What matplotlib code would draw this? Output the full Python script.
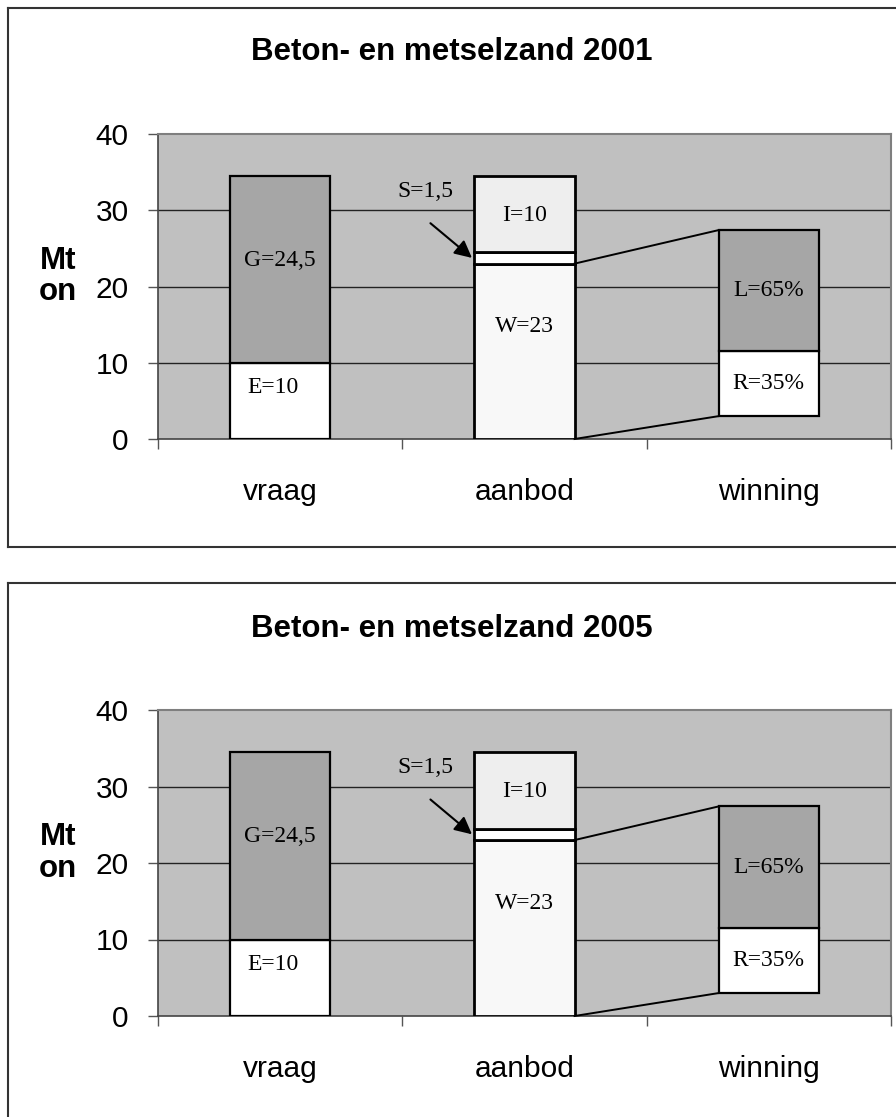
import matplotlib
matplotlib.use("Agg")
import matplotlib.pyplot as plt
from matplotlib.lines import Line2D

# --- data -------------------------------------------------------------
categories = ["vraag", "aanbod", "winning"]
years = ["2001", "2005"]

# vraag: E (bottom) and G (top), Mt
vraag_labels = ["E", "G"]
vraag_values = [10, 24.5]

# aanbod: W (bottom), S, I (top), Mt
aanbod_labels = ["W", "S", "I"]
aanbod_values = [23, 1.5, 10]

# winning: R (bottom) and L (top), shares in percent of the winning column
winning_labels = ["R", "L"]
winning_shares = [35, 65]
winning_base = 3.0
winning_span = 24.4

y_ticks = [0, 10, 20, 30, 40]

# --- style --------------------------------------------------------------
W_PX, H_PX = 896, 1117
SANS = "Liberation Sans"
SERIF = "Liberation Serif"
BG = "#C0C0C0"
vraag_colors = ["#FFFFFF", "#A6A6A6"]
aanbod_colors = ["#F8F8F8", "#FFFFFF", "#EEEEEE"]
winning_colors = ["#FFFFFF", "#A6A6A6"]
BAR_W = 0.41


def fmt(v):
    s = f"{v:g}"
    return s.replace(".", ",")


def fx(px):
    return px / W_PX


def fy(py):
    return 1 - py / H_PX


fig = plt.figure(figsize=(W_PX / 100, H_PX / 100), dpi=100)
fig.patch.set_facecolor("white")


def panel_frame(top, bottom):
    kw = dict(color="#333333", lw=1.5, transform=fig.transFigure)
    fig.add_artist(Line2D([fx(8), fx(8)], [fy(top), fy(bottom)], **kw))
    fig.add_artist(Line2D([fx(8), 1.0], [fy(top), fy(top)], **kw))
    if bottom < H_PX:
        fig.add_artist(Line2D([fx(8), 1.0], [fy(bottom), fy(bottom)], **kw))


def draw_panel(y_top_px, y_bot_px, title_y_px, year, frame):
    panel_frame(*frame)
    ax = fig.add_axes([fx(158), fy(y_bot_px), fx(891) - fx(158),
                       fy(y_top_px) - fy(y_bot_px)])
    ax.set_facecolor(BG)
    ax.set_xlim(-0.5, 2.5)
    ax.set_ylim(0, 40)
    ax.set_yticks(y_ticks)
    ax.set_yticklabels([str(t) for t in y_ticks], fontsize=21.5, family=SANS)
    ax.tick_params(axis="y", length=7, width=1, color="#555555", pad=14)

    ax.set_xticks([-0.5, 0.5, 1.5, 2.5])
    ax.set_xticklabels([])
    ax.tick_params(axis="x", length=7, width=1, color="#555555")
    ax.set_xticks([0, 1, 2], minor=True)
    ax.set_xticklabels(categories, minor=True, fontsize=21.5, family=SANS)
    ax.tick_params(axis="x", which="minor", length=0, pad=28)

    for v in y_ticks[1:-1]:
        ax.axhline(v, color="#222222", lw=1, zorder=1)
    for side in ("top", "right"):
        ax.spines[side].set_color("#7F7F7F")
        ax.spines[side].set_linewidth(1.5)
    for side in ("left", "bottom"):
        ax.spines[side].set_color("#444444")
        ax.spines[side].set_linewidth(1.2)

    txt = dict(ha="center", va="center", fontsize=17, family=SERIF, zorder=5)

    # vraag column
    bottom = 0.0
    label_pos = [0.67, 0.55]
    for lab, val, col, lp in zip(vraag_labels, vraag_values, vraag_colors, label_pos):
        ax.bar(0, val, BAR_W, bottom=bottom, color=col, edgecolor="black",
               lw=1.6, zorder=3)
        ax.text(-0.03 if lab == "E" else 0, bottom + lp * val,
                f"{lab}={fmt(val)}", **txt)
        bottom += val

    # aanbod column
    bottom = 0.0
    seg = {}
    for lab, val, col in zip(aanbod_labels, aanbod_values, aanbod_colors):
        ax.bar(1, val, BAR_W, bottom=bottom, color=col, edgecolor="black",
               lw=2.0, zorder=3)
        seg[lab] = (bottom, val)
        bottom += val
    wb, wv = seg["W"]
    ax.text(1, wb + 0.64 * wv, f"W={fmt(wv)}", **txt)
    ib, iv = seg["I"]
    ax.text(1, ib + 0.48 * iv, f"I={fmt(iv)}", **txt)
    sb, sv = seg["S"]
    ax.text(0.595, 32.5, f"S={fmt(sv)}", **txt)
    ax.annotate("", xy=(1 - BAR_W / 2 - 0.01, sb + sv / 2),
                xytext=(0.615, 28.3),
                arrowprops=dict(arrowstyle="-|>", color="black", lw=1.5,
                                mutation_scale=26, shrinkA=0, shrinkB=0),
                zorder=6)

    # winning column
    bottom = winning_base
    for lab, share, col in zip(winning_labels, winning_shares, winning_colors):
        h = winning_span * share / 100
        ax.bar(2, h, BAR_W, bottom=bottom, color=col, edgecolor="black",
               lw=1.6, zorder=3)
        ax.text(2, bottom + 0.5 * h, f"{lab}={share}%", **txt)
        bottom += h

    # connector lines between W and the winning column
    x0, x1 = 1 + BAR_W / 2, 2 - BAR_W / 2
    ax.plot([x0, x1], [wb + wv, winning_base + winning_span], color="black",
            lw=1.4, zorder=4, clip_on=False)
    ax.plot([x0, x1], [0, winning_base], color="black", lw=1.4, zorder=4,
            clip_on=False)

    fig.text(fx(452), fy(title_y_px), f"Beton- en metselzand {year}",
             ha="center", va="center", fontsize=22.5, fontweight="bold",
             family=SANS)
    fig.text(fx(58), fy((y_top_px + y_bot_px) / 2 - 10), "Mt\non",
             ha="center", va="center", fontsize=22.5, fontweight="bold",
             family=SANS, linespacing=1.05)
    return ax


draw_panel(134, 439, 52, years[0], (8, 547))
draw_panel(710, 1016, 629, years[1], (583, H_PX + 10))

fig.savefig("out.png", dpi=100)
